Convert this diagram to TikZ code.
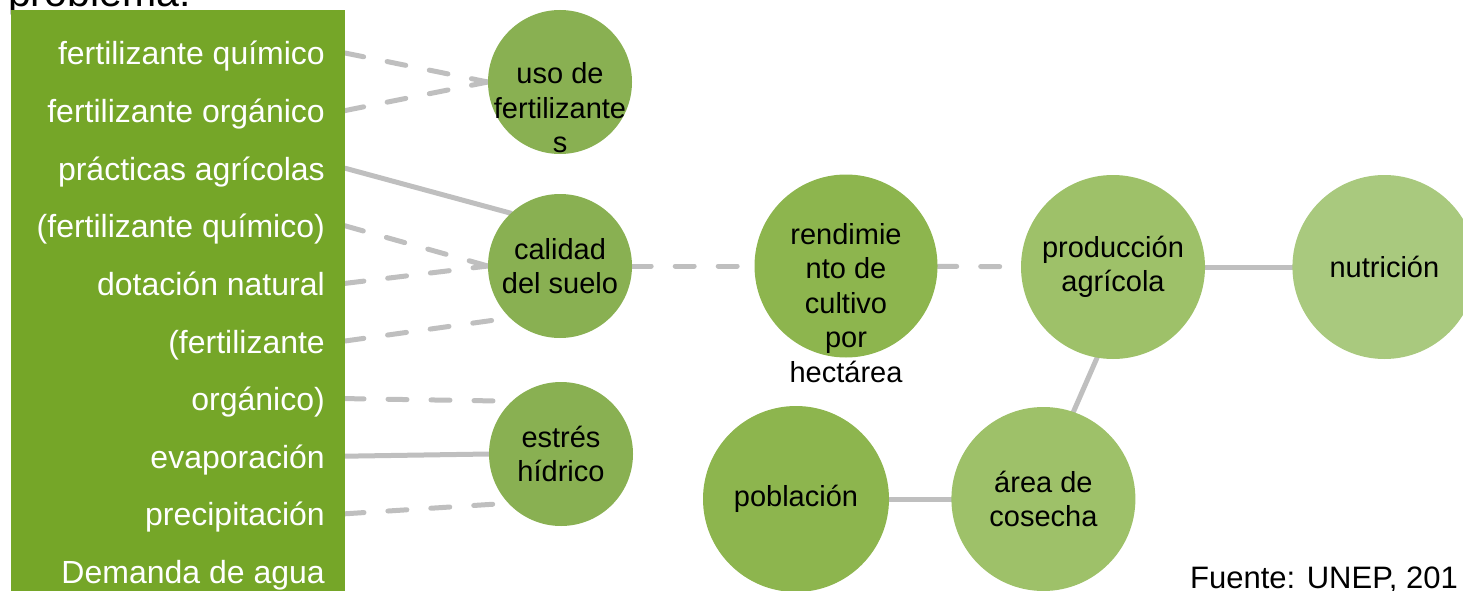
\documentclass[tikz,border=0pt]{standalone}
\usepackage{fontspec}
\setmainfont{Liberation Sans}
\usetikzlibrary{positioning,backgrounds}
\definecolor{barra}{HTML}{75A628}
\definecolor{verdeA}{HTML}{89B052}
\definecolor{verdeB}{HTML}{8DB54E}
\definecolor{verdeC}{HTML}{9EC169}
\definecolor{verdeD}{HTML}{A9C97E}
\definecolor{gris}{HTML}{BFBFBF}

\begin{document}
\begin{tikzpicture}[x=1pt,y=-1pt,
  causa/.style={anchor=base east,inner sep=0pt,text=white,font=\fontsize{32}{38}\selectfont},
  bola/.style={circle,inner sep=0pt,minimum size=144pt,align=center,font=\fontsize{29}{34}\selectfont},
  bolatexto/.style={inner sep=0pt,align=center,font=\fontsize{29}{34.5}\selectfont},
  liga/.style={draw=gris,line width=5pt,line cap=round},
  ligarota/.style={liga,dash pattern=on 19pt off 24pt}]
\useasboundingbox (0,0) rectangle (1463,591);
\node[anchor=base west,inner sep=0pt,font=\fontsize{41}{48}\selectfont] (titulo) at (8,7) {problema:};
\fill[barra] (11,10) rectangle (345,600);
\foreach \etiq [count=\i] in {fertilizante químico, fertilizante orgánico, prácticas agrícolas, {(fertilizante químico)}, dotación natural, {(fertilizante}, {orgánico)}, evaporación, precipitación, Demanda de agua}{
  \pgfmathsetmacro\y{65+57.6*(\i-1)}
  \node[causa] (c\i) at (325,\y) {\etiq};
  \coordinate (p\i) at (345,\y-12);
}
\node[bola,fill=verdeA] (uso) at (560,82) {};
\node[bolatexto,yshift=-26pt] (usotxt) at (uso) {uso de\\fertilizante\\s};
\node[bola,fill=verdeA] (cal) at (560,266) {calidad\\del suelo};
\node[bola,fill=verdeA] (est) at (561,454) {estrés\\hídrico};
\node[bola,fill=verdeB,minimum size=183pt] (rend) at (846,266) {};
\node[bolatexto,yshift=-37pt] (rendtxt) at (rend) {rendimie\\nto de\\cultivo\\por\\hectárea};
\node[bola,fill=verdeC,minimum size=184pt] (prod) at (1113,267) {producción\\agrícola};
\node[bola,fill=verdeD,minimum size=184pt,right=87pt of prod] (nut) {nutrición};
\node[bola,fill=verdeB,minimum size=186pt] (pob) at (796,499) {población};
\node[bola,fill=verdeC,minimum size=184pt,right=62pt of pob] (area) {área de\\cosecha};
\node[anchor=base west,inner sep=0pt,font=\fontsize{31}{36}\selectfont] (fuente) at (1190,588) {Fuente: UNEP, 201};
\begin{scope}[on background layer]
\draw[ligarota] (p1) -- (uso.west);
\draw[ligarota] (p2) -- (uso.west);
\draw[liga] (p3) -- (cal.133);
\draw[ligarota] (p4) -- (cal.west);
\draw[ligarota] (p5) -- (cal.west);
\draw[ligarota] (p6) -- (cal.226);
\draw[ligarota] (p7) -- (est.133);
\draw[liga] (p8) -- (est.west);
\draw[ligarota] (p9) -- (est.223);
\draw[ligarota] (cal) -- (rend);
\draw[ligarota] (rend) -- (prod);
\draw[liga] (prod) -- (nut);
\draw[liga] (prod.260) -- (area.71);
\draw[liga] (pob) -- (area);
\end{scope}
\end{tikzpicture}
\end{document}
